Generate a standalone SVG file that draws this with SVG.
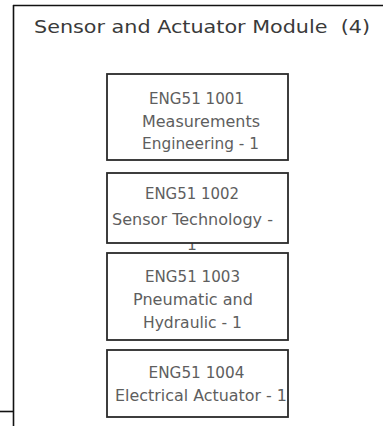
<svg xmlns="http://www.w3.org/2000/svg" width="383" height="426" viewBox="0 0 383 426">
<style>
.frame{stroke:#111;stroke-width:1.6;fill:none}
.box{fill:#fff;stroke:#2a2a2a;stroke-width:1.8}
.t{font-family:"DejaVu Sans","Liberation Sans",sans-serif;font-size:15.5px;fill:#5e5e5e;text-anchor:middle}
.title{font-family:"DejaVu Sans","Liberation Sans",sans-serif;font-size:17.5px;fill:#3a3a3a}
</style>
<rect width="383" height="426" fill="#fff"/>
<g id="frame">
<line class="frame" x1="13.5" y1="5" x2="13.5" y2="426"/>
<line class="frame" x1="13" y1="5.5" x2="383" y2="5.5"/>
<line class="frame" x1="0" y1="411.5" x2="13" y2="411.5"/>
<text class="title" x="34" y="33" textLength="336" lengthAdjust="spacingAndGlyphs">Sensor and Actuator Module &#160;(4)</text>
</g>
<g id="connectors"/>
<g id="n1001">
<rect class="box" x="107" y="74" width="181" height="86"/>
<text class="t" x="196.5" y="104" textLength="95" lengthAdjust="spacingAndGlyphs">ENG51 1001</text>
<text class="t" x="201" y="127" textLength="118" lengthAdjust="spacingAndGlyphs">Measurements</text>
<text class="t" x="200.5" y="149" textLength="117" lengthAdjust="spacingAndGlyphs">Engineering - 1</text>
</g>
<g id="n1002">
<text class="t" x="192" y="250">1</text>
<rect class="box" x="107" y="173" width="181" height="70"/>
<text class="t" x="192" y="199" textLength="94" lengthAdjust="spacingAndGlyphs">ENG51 1002</text>
<text class="t" x="192.5" y="225" textLength="161" lengthAdjust="spacingAndGlyphs">Sensor Technology -</text>
</g>
<g id="n1003">
<rect class="box" x="107" y="253" width="181" height="87"/>
<text class="t" x="192.5" y="282" textLength="95" lengthAdjust="spacingAndGlyphs">ENG51 1003</text>
<text class="t" x="193" y="305" textLength="120" lengthAdjust="spacingAndGlyphs">Pneumatic and</text>
<text class="t" x="192.5" y="328" textLength="99" lengthAdjust="spacingAndGlyphs">Hydraulic - 1</text>
</g>
<g id="n1004">
<rect class="box" x="107" y="350" width="181" height="67"/>
<text class="t" x="196.5" y="378" textLength="96" lengthAdjust="spacingAndGlyphs">ENG51 1004</text>
<text class="t" x="201" y="401" textLength="172" lengthAdjust="spacingAndGlyphs">Electrical Actuator - 1</text>
</g>
</svg>
